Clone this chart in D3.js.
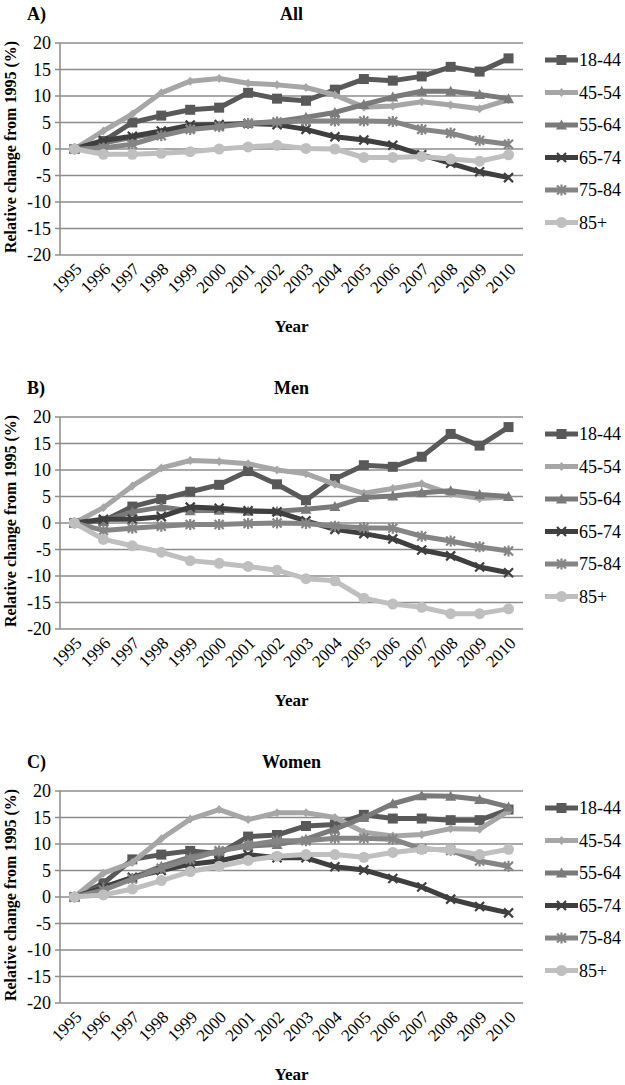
<!DOCTYPE html>
<html><head><meta charset="utf-8">
<script src="https://cdn.jsdelivr.net/npm/d3@7"></script>
<style>body{margin:0;background:#fff}svg{display:block}text{font-family:"Liberation Serif","Times New Roman",serif;fill:#000}</style>
</head><body>
<script>
const years = ["1995","1996","1997","1998","1999","2000","2001","2002","2003","2004","2005","2006","2007","2008","2009","2010"];
const groups = ["18-44","45-54","55-64","65-74","75-84","85+"];
const yTicks = [20,15,10,5,0,-5,-10,-15,-20];
const panelLabels = ["A)","B)","C)"];
const panelTitles = ["All","Men","Women"];

// Panel A: All
const allValues = [
  [0,1.5,5.0,6.3,7.4,7.8,10.6,9.5,9.1,11.2,13.2,12.9,13.7,15.5,14.6,17.1],
  [0,3.4,6.6,10.6,12.8,13.3,12.4,12.1,11.6,10.2,7.9,8.1,8.9,8.3,7.6,9.3],
  [0,1.1,2.2,3.1,3.9,4.4,4.8,5.2,6.0,6.9,8.4,9.8,10.9,10.9,10.3,9.5],
  [0,1.6,2.4,3.4,4.5,4.6,4.8,4.6,3.7,2.3,1.7,0.7,-1.1,-2.7,-4.3,-5.4],
  [0,0.2,0.9,2.5,3.7,4.2,4.8,5.1,5.3,5.3,5.3,5.2,3.7,3.0,1.6,0.9],
  [0,-1.0,-1.0,-0.8,-0.5,0.0,0.4,0.7,0.1,0.0,-1.6,-1.6,-1.4,-1.9,-2.3,-1.1]
];
// Panel B: Men
const menValues = [
  [0,0.4,3.1,4.5,5.9,7.2,9.8,7.3,4.3,8.3,10.9,10.6,12.5,16.8,14.6,18.1],
  [0,2.9,7.0,10.4,11.8,11.6,11.2,10.0,9.3,7.3,5.6,6.5,7.4,5.5,4.6,4.9],
  [0,0.4,2.1,3.0,2.3,2.4,2.2,2.2,2.6,3.1,4.8,5.1,5.7,6.1,5.4,5.0],
  [0,0.7,0.7,1.2,3.0,2.8,2.3,2.1,0.4,-1.2,-2.0,-3.0,-5.1,-6.2,-8.3,-9.4],
  [0,-1.4,-1.0,-0.6,-0.3,-0.3,-0.1,0.0,-0.1,-0.6,-0.9,-1.0,-2.5,-3.4,-4.5,-5.3],
  [0,-3.1,-4.3,-5.5,-7.1,-7.6,-8.2,-8.9,-10.5,-10.9,-14.2,-15.3,-15.9,-17.1,-17.1,-16.2]
];
// Panel C: Women
const womenValues = [
  [0,2.6,7.1,8.0,8.7,8.2,11.4,11.7,13.4,13.7,15.5,14.8,14.8,14.5,14.5,16.5],
  [0,4.5,6.5,11.0,14.7,16.5,14.6,15.9,15.9,15.0,12.2,11.5,11.8,12.9,12.8,16.2],
  [0,1.9,3.6,5.8,7.5,8.7,9.6,9.9,10.9,12.8,15.0,17.6,19.1,19.0,18.4,17.0],
  [0,1.8,3.7,5.0,6.2,6.8,8.0,7.4,7.4,5.7,5.1,3.5,1.9,-0.4,-1.8,-3.0],
  [0,1.3,3.4,5.4,7.1,8.7,9.8,10.6,10.6,11.1,11.1,10.9,9.1,8.8,6.8,5.8],
  [0,0.4,1.5,3.1,4.8,5.8,6.9,7.7,8.0,8.0,7.5,8.4,9.0,8.9,8.0,9.0]
];

const colors = ["#595959","#a6a6a6","#7a7a7a","#3f3f3f","#858585","#bfbfbf"];
const markers = ["square","diamond","triangle","x","star","circle"];

const W = 625, H = 1085;
const svg = d3.select("body").append("svg").attr("width", W).attr("height", H);

const plotLeft = 60, plotRight = 523, plotH = 212;
const panelTops = [43, 417, 791];
const panelData = [allValues, menValues, womenValues];

function markerPath(type){
  switch(type){
    case "square": return "M-5,-5H5V5H-5Z";
    case "diamond": return "M0,-4.5L4,0L0,4.5L-4,0Z";
    case "triangle": return "M0,-5.5L5.5,4.5H-5.5Z";
    case "x": return "M-4.5,-4.5L4.5,4.5M-4.5,4.5L4.5,-4.5";
    case "star": return "M-4.5,-4.5L4.5,4.5M-4.5,4.5L4.5,-4.5M0,-5.5V5.5";
    default: return "";
  }
}
function drawMarker(sel, s){
  const c = colors[s];
  if (markers[s] === "circle") sel.append("circle").attr("r", 5.5).attr("fill", c);
  else if (markers[s] === "x" || markers[s] === "star")
    sel.append("path").attr("d", markerPath(markers[s])).attr("stroke", c).attr("stroke-width", 2.2).attr("fill", "none");
  else sel.append("path").attr("d", markerPath(markers[s])).attr("fill", c);
}

const x = d3.scaleBand().domain(years).range([plotLeft, plotRight]);

panelData.forEach((vals, p) => {
  const top = panelTops[p];
  const y = d3.scaleLinear().domain([-20, 20]).range([top + plotH, top]);
  const g = svg.append("g");

  // gridlines
  g.append("g").selectAll("line").data(yTicks).join("line")
    .attr("x1", plotLeft - 5).attr("x2", plotRight)
    .attr("y1", d => y(d)).attr("y2", d => y(d))
    .attr("stroke", "#8c8c8c").attr("stroke-width", 1.5);
  // y axis line
  g.append("line").attr("x1", plotLeft).attr("x2", plotLeft)
    .attr("y1", y(20)).attr("y2", y(-20)).attr("stroke", "#8c8c8c").attr("stroke-width", 1.5);

  // y tick labels
  g.append("g").selectAll("text").data(yTicks).join("text")
    .attr("x", plotLeft - 9).attr("y", d => y(d)).attr("dy", "0.35em")
    .attr("text-anchor", "end").attr("font-size", 18).text(d => d);

  // x tick labels
  g.append("g").selectAll("text").data(years).join("text")
    .attr("text-anchor", "end").attr("font-size", 17).attr("dy", "0.35em")
    .attr("transform", d => `translate(${x(d) + x.bandwidth()/2 + 4},${y(-20) + 11}) rotate(-45)`)
    .text(d => d);

  // axis titles
  g.append("text").attr("x", (plotLeft + plotRight)/2).attr("y", y(-20) + 77)
    .attr("text-anchor", "middle").attr("font-size", 17).attr("font-weight", "bold").text("Year");
  g.append("text").attr("transform", `translate(16,${(y(20)+y(-20))/2 - 2}) rotate(-90)`)
    .attr("text-anchor", "middle").attr("font-size", 16).attr("font-weight", "bold")
    .text("Relative change from 1995 (%)");

  // panel titles
  g.append("text").attr("x", 27).attr("y", top - 23).attr("font-size", 18)
    .attr("font-weight", "bold").text(panelLabels[p]);
  g.append("text").attr("x", (plotLeft + plotRight)/2).attr("y", top - 23).attr("font-size", 18)
    .attr("font-weight", "bold").attr("text-anchor", "middle").text(panelTitles[p]);

  // series
  const line = d3.line().x((d, i) => x(years[i]) + x.bandwidth()/2).y(d => y(d));
  vals.forEach((series, s) => {
    const sg = g.append("g");
    sg.append("path").attr("d", line(series)).attr("fill", "none")
      .attr("stroke", colors[s]).attr("stroke-width", 5).attr("stroke-linejoin", "round");
    const pts = sg.selectAll("g").data(series).join("g")
      .attr("transform", (d, i) => `translate(${x(years[i]) + x.bandwidth()/2},${y(d)})`);
    pts.each(function(){ drawMarker(d3.select(this), s); });
  });

  // legend
  const lg = g.append("g");
  groups.forEach((name, s) => {
    const ly = top + 17 + s * 32.5;
    lg.append("line").attr("x1", 545).attr("x2", 578).attr("y1", ly).attr("y2", ly)
      .attr("stroke", colors[s]).attr("stroke-width", 5);
    drawMarker(lg.append("g").attr("transform", `translate(561.5,${ly})`), s);
    lg.append("text").attr("x", 579).attr("y", ly).attr("dy", "0.35em")
      .attr("font-size", 18).text(name);
  });
});
</script>
</body></html>
